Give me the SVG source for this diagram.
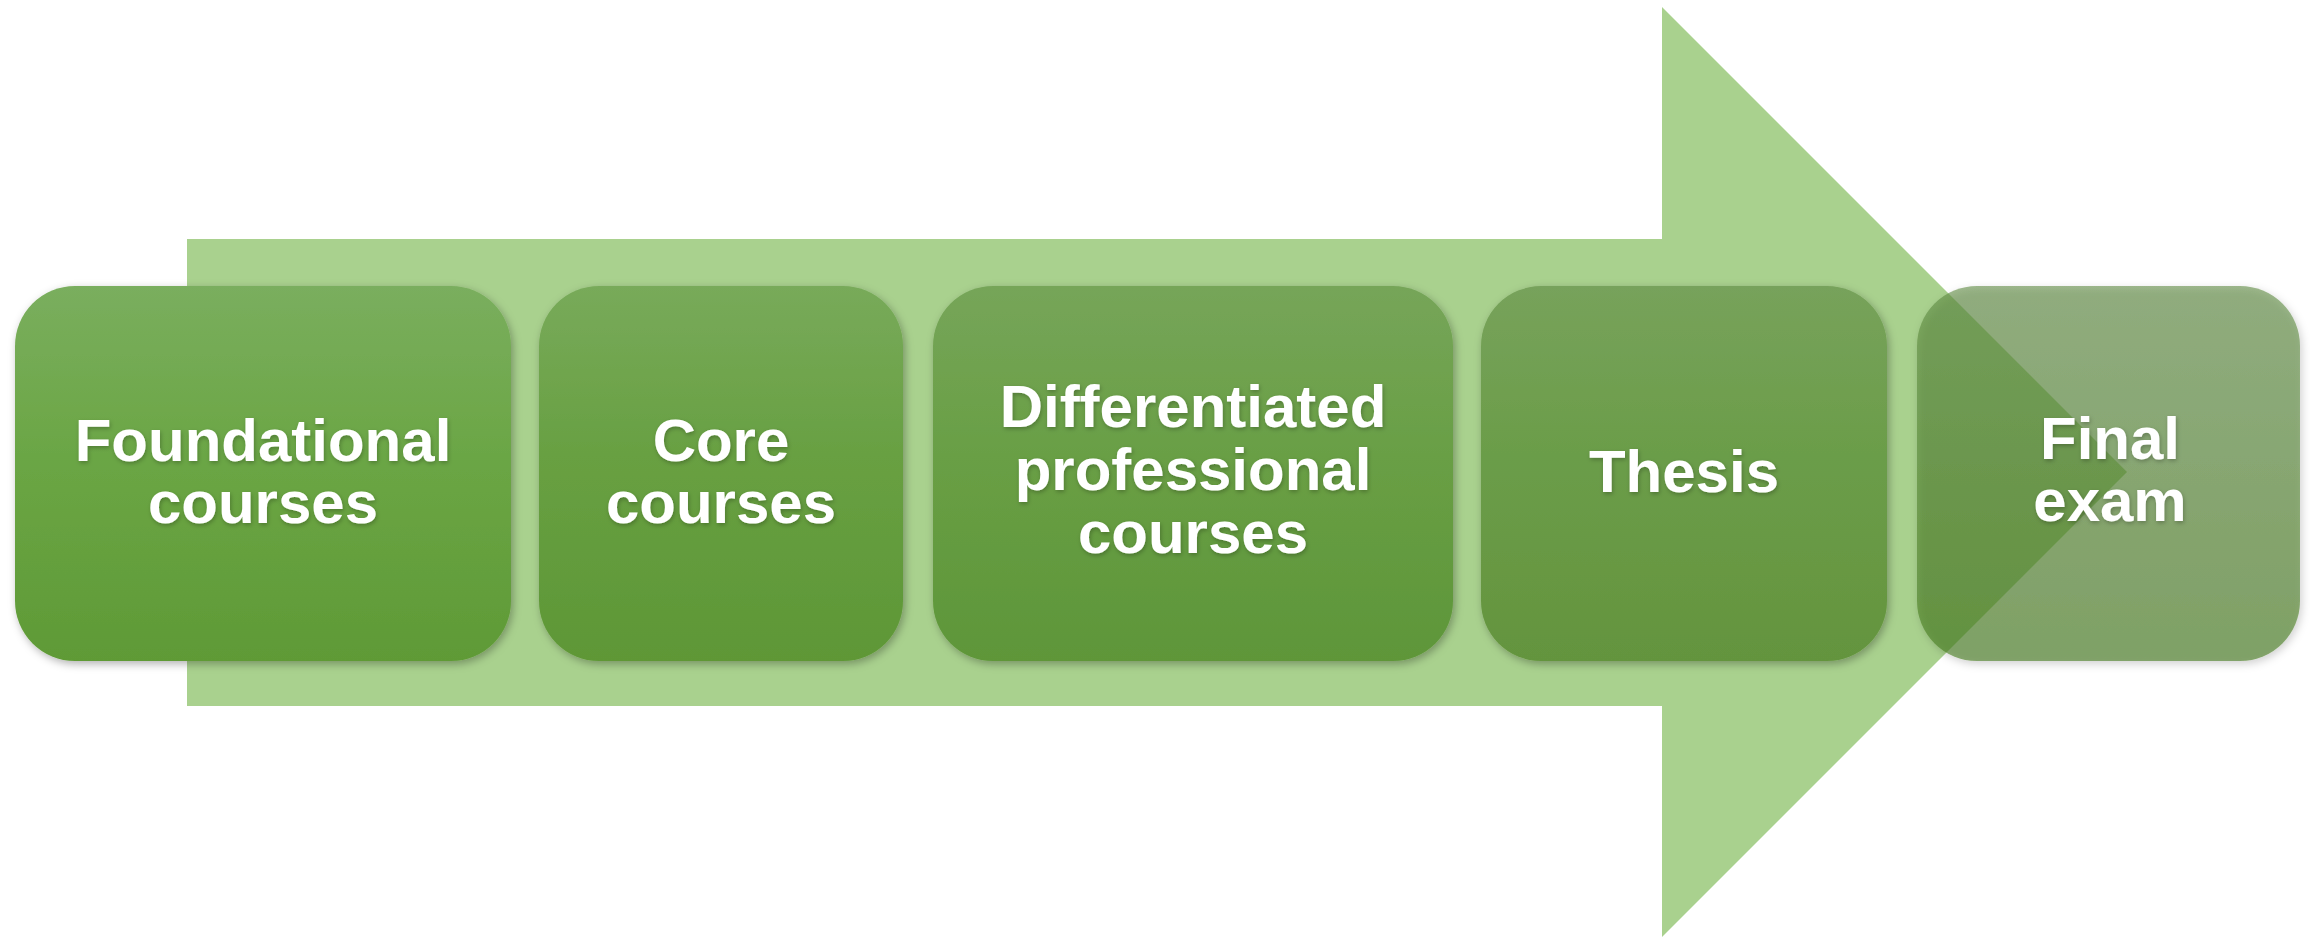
<svg xmlns="http://www.w3.org/2000/svg" width="2310" height="940" viewBox="0 0 2310 940">
  <style>
    .lbl { font-family: "Liberation Sans", Arial, sans-serif; font-weight: bold; font-size: 60px; fill: #ffffff; text-anchor: middle; }
  </style>
  <defs>
    <linearGradient id="g1" x1="0" y1="0" x2="0" y2="1">
      <stop offset="0" stop-color="#7AAE5E"/>
      <stop offset="0.45" stop-color="#6BA645"/>
      <stop offset="1" stop-color="#5F9A36"/>
    </linearGradient>
    <linearGradient id="g2" x1="0" y1="0" x2="0" y2="1">
      <stop offset="0" stop-color="#78AA5A"/>
      <stop offset="0.45" stop-color="#68A042"/>
      <stop offset="1" stop-color="#5E9736"/>
    </linearGradient>
    <linearGradient id="g3" x1="0" y1="0" x2="0" y2="1">
      <stop offset="0" stop-color="#76A559"/>
      <stop offset="0.45" stop-color="#699F45"/>
      <stop offset="1" stop-color="#5E9639"/>
    </linearGradient>
    <linearGradient id="g4" x1="0" y1="0" x2="0" y2="1">
      <stop offset="0" stop-color="#77A25B"/>
      <stop offset="0.45" stop-color="#6B9D49"/>
      <stop offset="1" stop-color="#64943E"/>
    </linearGradient>
    <linearGradient id="g5" x1="0" y1="0" x2="0" y2="1">
      <stop offset="0" stop-color="#5E8A42"/>
      <stop offset="1" stop-color="#44781C"/>
    </linearGradient>
    <filter id="shadow" x="-10%" y="-10%" width="120%" height="125%">
      <feDropShadow dx="2" dy="3" stdDeviation="4" flood-color="#000000" flood-opacity="0.3"/>
    </filter>
    <filter id="tshadow" x="-10%" y="-20%" width="120%" height="150%">
      <feDropShadow dx="1" dy="2" stdDeviation="2" flood-color="#000000" flood-opacity="0.25"/>
    </filter>
  </defs>

  <g id="connectors">
    <polygon id="arrow" points="187,239 1662,239 1662,7 2127,472 1662,937 1662,706 187,706" fill="#A9D18E"/>
  </g>

  <g id="node-foundational">
    <rect x="15" y="286" width="496" height="375" rx="60" ry="60" fill="url(#g1)" filter="url(#shadow)"/>
    <text class="lbl" x="263" y="461" filter="url(#tshadow)">Foundational</text>
    <text class="lbl" x="263" y="523" filter="url(#tshadow)">courses</text>
  </g>

  <g id="node-core">
    <rect x="539" y="286" width="364" height="375" rx="60" ry="60" fill="url(#g2)" filter="url(#shadow)"/>
    <text class="lbl" x="721" y="461" filter="url(#tshadow)">Core</text>
    <text class="lbl" x="721" y="523" filter="url(#tshadow)">courses</text>
  </g>

  <g id="node-differentiated">
    <rect x="933" y="286" width="520" height="375" rx="60" ry="60" fill="url(#g3)" filter="url(#shadow)"/>
    <text class="lbl" x="1193" y="427" filter="url(#tshadow)">Differentiated</text>
    <text class="lbl" x="1193" y="490" filter="url(#tshadow)">professional</text>
    <text class="lbl" x="1193" y="553" filter="url(#tshadow)">courses</text>
  </g>

  <g id="node-thesis">
    <rect x="1481" y="286" width="406" height="375" rx="60" ry="60" fill="url(#g4)" filter="url(#shadow)"/>
    <text class="lbl" x="1684" y="492" filter="url(#tshadow)">Thesis</text>
  </g>

  <g id="node-final">
    <rect x="1917" y="286" width="383" height="375" rx="60" ry="60" fill="url(#g5)" fill-opacity="0.6" filter="url(#shadow)"/>
    <text class="lbl" x="2110" y="459" filter="url(#tshadow)">Final</text>
    <text class="lbl" x="2110" y="521" filter="url(#tshadow)">exam</text>
  </g>
</svg>
